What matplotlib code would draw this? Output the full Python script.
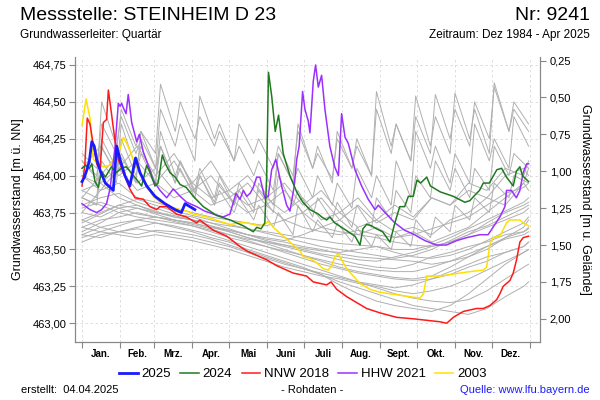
import matplotlib.pyplot as plt
from matplotlib.lines import Line2D
from matplotlib.ticker import FixedLocator, FuncFormatter, NullFormatter

plt.rcParams['font.family'] = ['Liberation Sans', 'DejaVu Sans']

ground = 465.03  # Geländehöhe [m ü. NN]

month_starts = [0, 31, 59, 90, 120, 151, 181, 212, 243, 273, 304, 334, 365]
month_names = ["Jan.", "Feb.", "Mrz.", "Apr.", "Mai", "Juni", "Juli",
               "Aug.", "Sept.", "Okt.", "Nov.", "Dez."]

# other years (grey), smoother ones sampled every 15 days
grey_days = [0, 15, 30, 45, 60, 75, 90, 105, 120, 135, 150, 165, 180,
             195, 210, 225, 240, 255, 270, 285, 300, 315, 330, 345, 360, 364]
grey_levels = [
    [464.05, 464.20, 464.00, 464.10, 463.95, 464.10, 463.90, 464.00, 463.85, 463.95, 463.80, 463.90, 463.75,
     463.85, 463.70, 463.80, 463.68, 463.75, 463.70, 463.85, 463.80, 463.95, 463.90, 464.05, 464.00, 464.10],
    [463.85, 464.00, 464.15, 463.95, 464.05, 463.90, 463.95, 463.85, 463.90, 463.80, 463.85, 463.75, 463.85,
     463.70, 463.75, 463.65, 463.70, 463.62, 463.65, 463.60, 463.70, 463.75, 463.85, 463.80, 463.95, 463.90],
    [463.75, 463.90, 464.05, 464.20, 464.00, 464.15, 463.95, 464.10, 463.90, 464.00, 463.85, 463.95, 463.80,
     463.90, 463.75, 463.85, 463.70, 463.80, 463.72, 463.85, 463.80, 463.90, 463.85, 464.00, 464.05, 464.00],
    [464.10, 463.95, 464.05, 463.90, 463.95, 463.85, 463.90, 463.80, 463.85, 463.75, 463.80, 463.70, 463.75,
     463.65, 463.70, 463.60, 463.65, 463.58, 463.62, 463.55, 463.60, 463.65, 463.75, 463.85, 463.95, 464.05],
    [463.80, 463.85, 463.88, 463.82, 463.78, 463.74, 463.72, 463.68, 463.64, 463.60, 463.56, 463.53, 463.50,
     463.47, 463.45, 463.43, 463.42, 463.45, 463.48, 463.52, 463.55, 463.60, 463.65, 463.70, 463.75, 463.78],
    [463.70, 463.75, 463.80, 463.78, 463.75, 463.72, 463.70, 463.66, 463.62, 463.58, 463.55, 463.52, 463.49,
     463.46, 463.43, 463.40, 463.38, 463.37, 463.40, 463.45, 463.48, 463.52, 463.55, 463.60, 463.62, 463.64],
    [463.90, 463.95, 463.85, 463.80, 463.76, 463.72, 463.70, 463.66, 463.63, 463.60, 463.57, 463.55, 463.52,
     463.50, 463.47, 463.45, 463.44, 463.43, 463.42, 463.40, 463.42, 463.45, 463.50, 463.58, 463.65, 463.70],
    [463.65, 463.70, 463.72, 463.75, 463.72, 463.70, 463.68, 463.65, 463.63, 463.60, 463.58, 463.56, 463.60,
     463.65, 463.62, 463.60, 463.58, 463.55, 463.53, 463.52, 463.55, 463.60, 463.68, 463.75, 463.80, 463.82],
    [463.60, 463.65, 463.68, 463.70, 463.72, 463.70, 463.67, 463.64, 463.60, 463.56, 463.52, 463.48, 463.44,
     463.40, 463.37, 463.34, 463.32, 463.30, 463.29, 463.30, 463.33, 463.38, 463.42, 463.48, 463.52, 463.55],
    [464.00, 463.90, 463.95, 463.85, 463.82, 463.78, 463.75, 463.72, 463.70, 463.68, 463.66, 463.70, 463.65,
     463.62, 463.60, 463.63, 463.60, 463.58, 463.60, 463.64, 463.68, 463.72, 463.80, 463.88, 463.92, 463.95],
    [463.75, 463.72, 463.78, 463.80, 463.75, 463.73, 463.70, 463.68, 463.66, 463.64, 463.61, 463.58, 463.55,
     463.52, 463.50, 463.48, 463.46, 463.44, 463.46, 463.50, 463.56, 463.62, 463.66, 463.72, 463.78, 463.80],
    [463.85, 463.80, 463.75, 463.78, 463.74, 463.70, 463.68, 463.65, 463.62, 463.58, 463.54, 463.50, 463.46,
     463.42, 463.38, 463.35, 463.33, 463.31, 463.30, 463.32, 463.38, 463.45, 463.52, 463.58, 463.62, 463.65],
    [463.68, 463.74, 463.80, 463.84, 463.80, 463.76, 463.73, 463.70, 463.67, 463.64, 463.62, 463.60, 463.58,
     463.56, 463.54, 463.53, 463.52, 463.50, 463.50, 463.53, 463.58, 463.64, 463.70, 463.76, 463.82, 463.85],
    [463.78, 463.82, 463.78, 463.74, 463.72, 463.69, 463.66, 463.62, 463.58, 463.55, 463.52, 463.49, 463.46,
     463.43, 463.40, 463.38, 463.36, 463.35, 463.35, 463.38, 463.42, 463.47, 463.52, 463.57, 463.60, 463.62],
    [463.62, 463.68, 463.75, 463.72, 463.70, 463.68, 463.66, 463.63, 463.60, 463.57, 463.55, 463.53, 463.51,
     463.49, 463.48, 463.50, 463.52, 463.48, 463.45, 463.44, 463.46, 463.50, 463.56, 463.62, 463.68, 463.72],
    [463.55, 463.60, 463.62, 463.65, 463.68, 463.66, 463.63, 463.60, 463.56, 463.52, 463.48, 463.44, 463.40,
     463.36, 463.32, 463.28, 463.24, 463.20, 463.17, 463.15, 463.14, 463.16, 463.22, 463.30, 463.38, 463.40],
    [463.60, 463.58, 463.62, 463.60, 463.63, 463.62, 463.60, 463.57, 463.53, 463.49, 463.45, 463.41, 463.37,
     463.33, 463.28, 463.24, 463.20, 463.16, 463.12, 463.10, 463.08, 463.06, 463.10, 463.18, 463.25, 463.28],
    [463.65, 463.62, 463.60, 463.58, 463.60, 463.58, 463.56, 463.53, 463.50, 463.46, 463.42, 463.38, 463.35,
     463.32, 463.30, 463.27, 463.25, 463.22, 463.20, 463.22, 463.25, 463.30, 463.36, 463.42, 463.48, 463.50],
    [463.70, 463.65, 463.62, 463.64, 463.62, 463.60, 463.58, 463.55, 463.52, 463.48, 463.44, 463.40, 463.37,
     463.34, 463.31, 463.28, 463.26, 463.24, 463.26, 463.30, 463.35, 463.40, 463.45, 463.48, 463.52, 463.55],
    [463.58, 463.62, 463.66, 463.70, 463.68, 463.65, 463.62, 463.58, 463.55, 463.50, 463.46, 463.42, 463.38,
     463.33, 463.26, 463.20, 463.15, 463.12, 463.10, 463.08, 463.12, 463.20, 463.30, 463.40, 463.48, 463.50],
]

# wet years with sharp rises (grey), trough / peak pairs
spiky_days = [0, 12, 16, 28, 32, 44, 48, 60, 64, 76, 80, 92, 96, 108, 112, 124, 128, 140, 144, 156, 160,
              172, 176, 188, 192, 204, 208, 220, 224, 236, 240, 252, 256, 268, 272, 284, 288, 300, 304,
              316, 320, 332, 336, 348, 352, 364]
spiky_levels = [
    [464.15, 464.05, 464.35, 464.15, 464.45, 464.20, 464.30, 464.15, 464.62, 464.30, 464.50, 464.25, 464.40,
     464.20, 464.30, 464.10, 464.35, 464.15, 464.25, 464.05, 464.20, 464.00, 464.30, 464.05, 464.15, 463.98,
     464.25, 464.05, 464.20, 464.00, 464.45, 464.15, 464.35, 464.10, 464.40, 464.15, 464.55, 464.25, 464.45,
     464.20, 464.50, 464.25, 464.60, 464.30, 464.50, 464.35],
    [464.00, 463.95, 464.50, 464.20, 464.40, 464.15, 464.25, 464.05, 464.45, 464.20, 464.35, 464.10, 464.54,
     464.25, 464.35, 464.10, 464.20, 464.00, 464.10, 463.90, 464.15, 463.95, 464.05, 463.85, 464.00, 463.80,
     463.95, 463.78, 464.05, 463.85, 464.00, 463.80, 464.10, 463.85, 464.30, 464.05, 464.20, 463.95, 464.15,
     463.95, 464.35, 464.10, 464.25, 464.05, 464.40, 464.20],
    [463.85, 463.80, 464.10, 463.95, 464.25, 464.00, 464.15, 463.95, 464.20, 463.95, 464.05, 463.85, 464.00,
     463.82, 463.95, 463.80, 463.90, 463.75, 463.95, 463.80, 464.15, 463.95, 464.35, 464.05, 464.20, 463.95,
     464.30, 464.05, 464.25, 464.00, 464.57, 464.20, 464.35, 464.10, 464.54, 464.20, 464.40, 464.15, 464.56,
     464.25, 464.45, 464.15, 464.63, 464.30, 464.45, 464.30],
    [464.10, 464.00, 464.25, 464.05, 464.15, 463.95, 464.30, 464.05, 464.20, 463.95, 464.10, 463.90, 464.05,
     463.85, 464.00, 463.80, 463.95, 463.78, 463.90, 463.75, 464.00, 463.80, 463.90, 463.72, 463.85, 463.70,
     463.82, 463.65, 463.80, 463.65, 463.85, 463.70, 463.90, 463.75, 464.00, 463.85, 464.10, 463.90, 464.05,
     463.85, 464.05, 463.90, 464.20, 464.00, 464.15, 464.05],
    [463.90, 463.85, 464.20, 464.00, 464.35, 464.05, 464.20, 463.95, 464.30, 464.00, 464.10, 463.88, 464.00,
     463.80, 463.90, 463.75, 463.85, 463.70, 463.80, 463.65, 463.75, 463.60, 463.80, 463.62, 463.70, 463.58,
     463.68, 463.55, 463.65, 463.52, 463.60, 463.50, 463.62, 463.52, 463.70, 463.58, 463.72, 463.62, 463.80,
     463.70, 463.85, 463.75, 463.95, 463.85, 464.00, 463.95],
]

# 2003
y2003_days = [0, 3.3, 6.5, 9.2, 12, 17.4, 22.8, 26.9, 29.6, 33.7, 36.4, 39, 43.2, 47.3, 52.7, 58, 63.6,
              71.7, 79.9, 85.3, 90.7, 101.6, 112.5, 120.6, 128.8, 134.2, 139.6, 145, 149, 151.9, 156,
              161.4, 166.8, 172.2, 177.7, 180.4, 185.8, 191.2, 196.6, 200.7, 203.4, 206.2, 208.9, 211.6,
              215.7, 221.1, 226.6, 234.7, 242.9, 251, 259.2, 267.4, 275.5, 278.3, 281, 283.7, 291.8, 300,
              308.1, 316.2, 327.1, 329.8, 332.5, 335.2, 340.6, 346, 348.8, 356.9, 359.6, 364]
y2003_lev = [464.34, 464.52, 464.39, 464.11, 464.09, 464.06, 464.07, 464.13, 464.14, 464.26, 464.22, 464.17,
             464.08, 464.02, 463.93, 463.86, 463.82, 463.79, 463.77, 463.76, 463.74, 463.72, 463.69, 463.67,
             463.68, 463.68, 463.67, 463.66, 463.67, 463.69, 463.65, 463.61, 463.57, 463.53, 463.49, 463.45,
             463.44, 463.41, 463.37, 463.36, 463.39, 463.45, 463.47, 463.43, 463.37, 463.32, 463.27, 463.23,
             463.21, 463.20, 463.19, 463.18, 463.17, 463.20, 463.32, 463.32, 463.32, 463.33, 463.34, 463.35,
             463.36, 463.38, 463.54, 463.58, 463.59, 463.68, 463.70, 463.70, 463.68, 463.66]

# HHW 2021
y2021_days = [0, 6.5, 12, 16, 20, 22.8, 26.9, 29.6, 31, 32.3, 33.7, 35.9, 37.7, 40.5, 44.6, 46.7, 50, 54,
              58, 63.6, 69, 74.4, 80, 85.3, 93.5, 100, 107, 115, 120.6, 123, 125.5, 128.8, 131.5, 134.2,
              137, 139.6, 142.4, 145, 149, 151.8, 154.6, 158, 162.7, 166.8, 169.5, 173, 175, 177, 179.8,
              181.7, 184.4, 185.8, 188.5, 190.4, 192.6, 195.3, 198, 202, 206, 209, 211.6, 214.4, 217,
              222.5, 227.9, 233.3, 238.8, 241.5, 247, 255, 263, 271, 279.5, 289, 297, 305.4, 313.5, 324.4,
              331, 335, 340.6, 344.7, 346, 350, 354, 356.9, 359.6, 362.4, 364]
y2021_lev = [463.81, 463.77, 463.75, 463.77, 463.81, 463.91, 464.19, 464.49, 464.47, 464.49, 464.46, 464.42,
             464.55, 464.36, 464.23, 464.28, 464.16, 464.07, 463.97, 463.90, 463.85, 463.91, 463.86, 463.82,
             463.79, 463.76, 463.74, 463.72, 463.74, 463.81, 463.88, 463.84, 463.90, 463.86, 463.88, 463.92,
             463.99, 463.99, 463.85, 463.86, 464.04, 464.11, 463.93, 463.80, 463.76, 463.93, 464.11, 464.20,
             464.57, 464.45, 464.37, 464.29, 464.64, 464.75, 464.60, 464.68, 464.45, 464.20, 464.06, 464.00,
             464.42, 464.26, 464.22, 464.04, 463.93, 463.84, 463.77, 463.80, 463.75, 463.68, 463.63, 463.60,
             463.56, 463.53, 463.53, 463.56, 463.58, 463.60, 463.60, 463.65, 463.72, 463.79, 463.90, 463.90,
             463.85, 463.90, 464.02, 464.08, 464.08]

# NNW 2018
y2018_days = [0, 2.3, 4.3, 6.5, 9.2, 12, 14.7, 17.4, 20, 21.5, 24.2, 27, 29.6, 33.7, 39, 43.2, 50, 55.4,
              60.8, 63.6, 69, 77, 85, 93.5, 96, 107, 118, 128.8, 134.2, 139.6, 145, 150.5, 158.7, 166.8,
              172.2, 183, 188.5, 199.4, 203, 207.6, 215.8, 223.9, 232, 243, 256.5, 270.2, 281, 291.8, 297.2,
              300, 302.6, 310.8, 316.2, 321.6, 327.1, 332.5, 338, 340.6, 343.3, 348.8, 351.5, 354.2, 356.9,
              359.6, 364]
y2018_lev = [463.93, 464.07, 464.39, 464.35, 464.21, 464.08, 464.04, 464.36, 464.38, 464.58, 464.41, 464.23,
             464.11, 464.02, 463.91, 463.85, 463.84, 463.79, 463.77, 463.79, 463.79, 463.74, 463.72, 463.68,
             463.70, 463.63, 463.59, 463.52, 463.49, 463.47, 463.45, 463.43, 463.39, 463.36, 463.34, 463.32,
             463.28, 463.26, 463.28, 463.23, 463.18, 463.14, 463.10, 463.07, 463.04, 463.03, 463.02, 463.01,
             463.00, 463.02, 463.04, 463.08, 463.09, 463.10, 463.10, 463.12, 463.16, 463.20, 463.25, 463.29,
             463.34, 463.43, 463.55, 463.58, 463.59]

# 2024
y2024_days = [0, 3, 6, 8, 10.6, 13.3, 16, 19, 24, 28, 32, 36, 40, 44, 48.6, 52.7, 56, 59.5, 62, 65.5, 68,
              71.7, 76, 80, 85, 90.7, 98.9, 109.8, 120.6, 131.5, 139.6, 142.4, 146, 149, 150.5, 152, 154.6,
              157.5, 160.2, 164, 169.5, 175, 180, 185.8, 192.6, 195.4, 199.4, 202, 206, 211.6, 217, 222.5,
              226.6, 229, 232, 236, 240, 245, 251, 255, 259, 263, 266, 270, 273, 276, 281, 284, 292, 302.6,
              312, 316, 321.6, 324, 327.1, 332, 338.1, 342, 346, 351.5, 354, 356.9, 359, 364]
y2024_lev = [464.05, 464.07, 464.05, 464.08, 463.96, 463.92, 464.03, 463.99, 464.06, 464.02, 464.05, 464.06,
             464.02, 463.98, 463.93, 464.07, 464.01, 463.93, 463.95, 464.14, 464.08, 464.02, 463.99, 463.94,
             463.92, 463.86, 463.79, 463.73, 463.70, 463.66, 463.62, 463.65, 463.64, 463.68, 463.99, 464.70,
             464.54, 464.30, 464.41, 464.15, 464.00, 463.89, 463.82, 463.77, 463.74, 463.72, 463.70, 463.72,
             463.68, 463.65, 463.62, 463.59, 463.53, 463.64, 463.67, 463.66, 463.64, 463.62, 463.55, 463.68,
             463.79, 463.79, 463.86, 463.86, 463.97, 463.95, 463.99, 463.93, 463.89, 463.86, 463.82, 463.83,
             463.88, 463.90, 463.95, 463.95, 464.04, 464.05, 463.99, 463.93, 464.03, 464.06, 464.00, 463.96]

# 2025
y2025_days = [0, 2, 4, 6, 8, 10, 12, 15, 19, 23, 25.5, 28.3, 31, 35, 39, 43.7, 47.3, 52.7, 59.5, 67.6,
              75.8, 81, 84, 88, 92]
y2025_lev = [463.96, 463.99, 464.04, 464.10, 464.23, 464.20, 464.11, 464.03, 463.95, 463.92, 463.90, 464.20,
             464.11, 464.00, 463.93, 464.12, 464.02, 463.93, 463.86, 463.81, 463.77, 463.75, 463.81, 463.79,
             463.77]

fig = plt.figure(figsize=(6, 4), dpi=100)
ax = fig.add_axes([0.125, 0.145, 0.775, 0.7125])

for lev in grey_levels:
    ax.plot(grey_days, lev, color="#b0b0b0", lw=0.7, zorder=2)
for lev in spiky_levels:
    ax.plot(spiky_days, lev, color="#b0b0b0", lw=0.7, zorder=2)

ax.plot(y2003_days, y2003_lev, color="#ffe000", lw=1.1, zorder=3)
ax.plot(y2021_days, y2021_lev, color="#9b30ff", lw=1.1, zorder=4)
ax.plot(y2018_days, y2018_lev, color="#ff1a1a", lw=1.1, zorder=5)
ax.plot(y2024_days, y2024_lev, color="#1f7a1f", lw=1.1, zorder=6)
ax.plot(y2025_days, y2025_lev, color="#1a1aff", lw=2.0, zorder=7)

ylo, yhi = 462.873, 464.804
ax.set_xlim(-5.7, 373.3)
ax.set_ylim(ylo, yhi)

ax.xaxis.set_major_locator(FixedLocator(month_starts))
ax.xaxis.set_major_formatter(NullFormatter())
mids = [(month_starts[i] + month_starts[i + 1]) / 2 for i in range(12)]
ax.xaxis.set_minor_locator(FixedLocator(mids))
ax.set_xticklabels(month_names, minor=True)
ax.tick_params(axis="x", which="minor", length=0, pad=5, labelsize=7)
for t in ax.get_xticklabels(minor=True):
    t.set_fontweight("bold")
ax.tick_params(axis="x", which="major", length=4, color="#888888")

yt = [463.0, 463.25, 463.5, 463.75, 464.0, 464.25, 464.5, 464.75]
comma = FuncFormatter(lambda v, p: f"{v:.2f}".replace(".", ","))
ax.set_yticks(yt)
ax.yaxis.set_major_formatter(comma)
ax.tick_params(axis="y", length=4, labelsize=8, color="#888888", pad=2)
ax.grid(True, color="#d8d8d8", ls=(0, (3, 3)), lw=0.6)
ax.set_axisbelow(True)
ax.set_ylabel("Grundwasserstand [m ü. NN]", fontsize=9, labelpad=6)

ax2 = ax.twinx()
ax2.set_ylim(ground - ylo, ground - yhi)
ax2.set_yticks([0.25, 0.5, 0.75, 1.0, 1.25, 1.5, 1.75, 2.0])
ax2.yaxis.set_major_formatter(comma)
ax2.tick_params(axis="y", length=4, labelsize=8, color="#888888", pad=3)
ax2.set_ylabel("Grundwasserstand [m u. Gelände]", fontsize=9, rotation=270, labelpad=14)

for a in (ax, ax2):
    a.spines["top"].set_visible(False)
    for s in ("left", "right", "bottom"):
        a.spines[s].set_color("#888888")

fig.text(0.033, 0.962, "Messstelle: STEINHEIM D 23", fontsize=14, va="center")
fig.text(0.983, 0.962, "Nr: 9241", fontsize=14, va="center", ha="right")
fig.text(0.033, 0.912, "Grundwasserleiter: Quartär", fontsize=8.5, va="center")
fig.text(0.983, 0.912, "Zeitraum: Dez 1984 - Apr 2025", fontsize=8.5, va="center", ha="right")

handles = [Line2D([], [], color=c, lw=w) for c, w in
           [("#1a1aff", 2.0), ("#1f7a1f", 1.1), ("#ff1a1a", 1.1), ("#9b30ff", 1.1), ("#ffe000", 1.1)]]
fig.legend(handles, ["2025", "2024", "NNW 2018", "HHW 2021", "2003"], loc="center",
           bbox_to_anchor=(0.505, 0.065), ncol=5, frameon=False, fontsize=9.5,
           handlelength=1.4, handletextpad=0.3, columnspacing=0.7)

fig.text(0.035, 0.025, "erstellt:  04.04.2025", fontsize=8, va="center")
fig.text(0.52, 0.025, "- Rohdaten -", fontsize=8, va="center", ha="center")
fig.text(0.983, 0.025, "Quelle: www.lfu.bayern.de", fontsize=8, va="center", ha="right", color="#1a1aff")

fig.savefig("out.png", dpi=100)
